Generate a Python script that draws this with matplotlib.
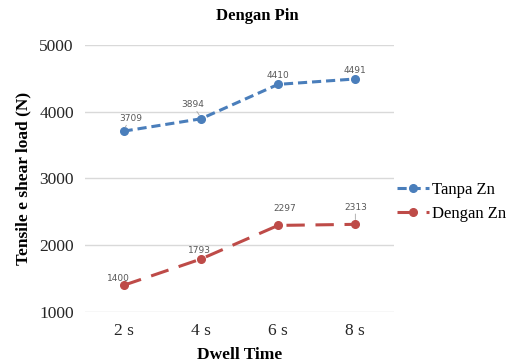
import matplotlib
matplotlib.use("Agg")
import matplotlib.pyplot as plt

categories = ["2 s", "4 s", "6 s", "8 s"]
tanpa_zn = [3709, 3894, 4410, 4491]
dengan_zn = [1400, 1793, 2297, 2313]

blue = "#4A7EBB"
red = "#BE4B48"
serif = ["Liberation Serif", "DejaVu Serif"]

fig = plt.figure(figsize=(5.10, 3.64), dpi=100)
ax = fig.add_axes([0.1667, 0.1429, 0.6058, 0.7335])

x = list(range(len(categories)))
l1, = ax.plot(x, tanpa_zn, color=blue, lw=2.2, dashes=(3, 1.6),
              marker="o", markersize=5.5, label="Tanpa Zn")
l2, = ax.plot(x, dengan_zn, color=red, lw=2.2, dashes=(6, 3.5),
              marker="o", markersize=5.5, label="Dengan Zn")

# data labels
lab_kw = dict(fontsize=6.5, color="#595959", family="DejaVu Sans",
              ha="center", va="bottom")
offsets_blue = [(5, 6), (-6, 7), (0, 3), (0, 3)]
offsets_red = [(-4, 2), (-1, 3), (5, 9), (0, 9)]
for xi, v, (dx, dy) in zip(x, tanpa_zn, offsets_blue):
    ax.annotate(str(v), (xi, v), xytext=(dx, dy), textcoords="offset points", **lab_kw)
for xi, v, (dx, dy) in zip(x, dengan_zn, offsets_red):
    ax.annotate(str(v), (xi, v), xytext=(dx, dy), textcoords="offset points", **lab_kw)
# leader lines
ax.annotate("", xy=(1, tanpa_zn[1] + 20), xytext=(-4, 6), textcoords="offset points",
            arrowprops=dict(arrowstyle="-", color="#A6A6A6", lw=0.6))
ax.annotate("", xy=(0, tanpa_zn[0] + 20), xytext=(3, 5), textcoords="offset points",
            arrowprops=dict(arrowstyle="-", color="#A6A6A6", lw=0.6))
ax.annotate("", xy=(3, dengan_zn[3] + 30), xytext=(0, 8), textcoords="offset points",
            arrowprops=dict(arrowstyle="-", color="#A6A6A6", lw=0.6))

ax.set_xlim(-0.5, 3.5)
ax.set_ylim(1000, 5000)
ax.set_yticks([1000, 2000, 3000, 4000, 5000])
ax.set_xticks(x)
ax.set_xticklabels(categories)
ax.grid(axis="y", color="#D9D9D9", lw=1)
ax.set_axisbelow(True)
for s in ax.spines.values():
    s.set_visible(False)
ax.tick_params(length=0, labelsize=12.5, pad=8)
for t in ax.get_xticklabels() + ax.get_yticklabels():
    t.set_family(serif)
    t.set_color("#262626")

ax.set_xlabel("Dwell Time", family=serif, fontsize=12.5, fontweight="bold", labelpad=6)
ax.set_ylabel("Tensile e shear load (N)", family=serif, fontsize=12.5,
              fontweight="bold", labelpad=6)
fig.text(0.505, 0.955, "Dengan Pin", family=serif, fontsize=12, fontweight="bold",
         ha="center", va="center")

leg = fig.legend(handles=[l1, l2], loc="center left", bbox_to_anchor=(0.772, 0.445),
                 frameon=False, prop={"family": serif, "size": 12},
                 handlelength=1.9, handletextpad=0.2, labelspacing=0.45,
                 borderaxespad=0, borderpad=0.2)

fig.savefig("out.png", dpi=100)
